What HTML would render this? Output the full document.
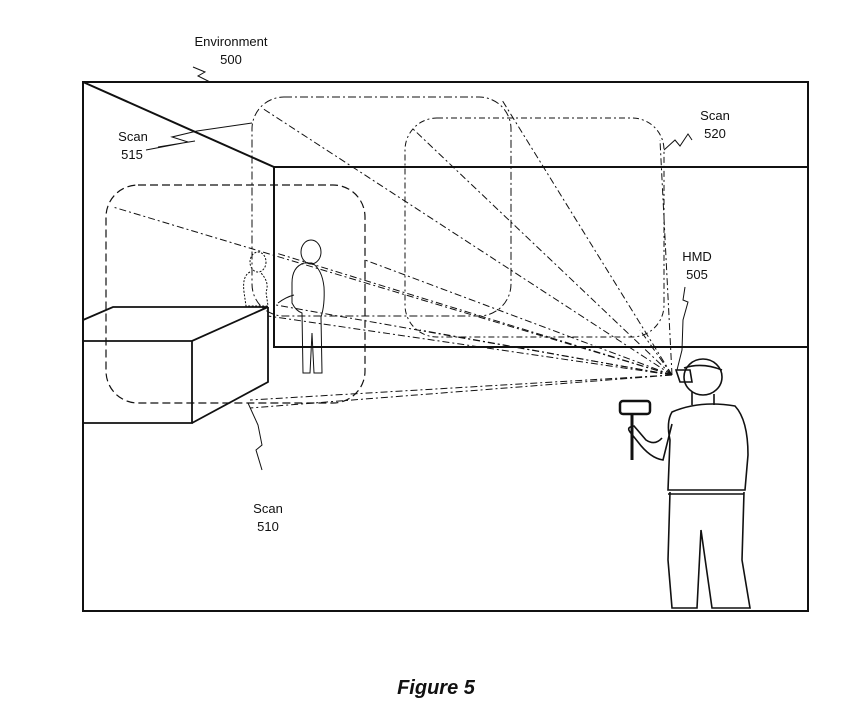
<!DOCTYPE html>
<html><head><style>body{margin:0;background:#fff}svg{display:block}text{font-family:"Liberation Sans",sans-serif;font-size:13px;fill:#111}</style></head><body>
<svg width="859" height="724" viewBox="0 0 859 724" xmlns="http://www.w3.org/2000/svg">
<g fill="none" stroke="#111">
<rect x="83" y="82" width="725" height="529" stroke-width="2"/>
<path d="M83 82 L274 167 L808 167 M274 167 V347 H808" stroke-width="2"/>
<path d="M83 320 L113 307 L268 307 L192 341 L83 341 M192 341 V423 H83 M268 307 V382 L192 423" stroke-width="1.8"/>
<rect x="106" y="185" width="259" height="218" rx="32" stroke-dasharray="8,4" stroke-width="1.2"/>
<rect x="252" y="97" width="259" height="219" rx="32" stroke-dasharray="8,3,2,3" stroke-width="1"/>
<rect x="405" y="118" width="259" height="219" rx="32" stroke-dasharray="6,3,2,3" stroke-width="1"/>
<g stroke-width="1" stroke-dasharray="7,3,2,3">
<path d="M672 375 L113 207"/><path d="M672 375 L262 108"/><path d="M672 375 L412 128"/>
<path d="M672 375 L502 100"/><path d="M672 375 L660 140"/><path d="M672 375 L276 253"/>
<path d="M672 375 L276 305"/><path d="M672 375 L268 316"/><path d="M672 375 L420 330"/>
<path d="M672 375 L640 330"/><path d="M672 375 L250 400"/><path d="M672 375 L250 408"/>
<path d="M672 375 L365 260"/>
</g>
<path d="M193 67 L205 72 L198 76 L210 82" stroke-width="1"/>
<path d="M252 123 L197 131 L172 137 L188 142 L146 150 M195 141 L158 147" stroke-width="1"/>
<path d="M664 150 L675 140 L680 146 L688 134 L692 140" stroke-width="1"/>
<path d="M685 287 L683 300 L688 302 L683 320 L682 350 L677 370" stroke-width="1"/>
<path d="M248 403 L258 425 L262 445 L256 450 L262 470" stroke-width="1"/>
<!-- dotted person -->
<g stroke-width="1" stroke-dasharray="2,1.5">
<ellipse cx="258" cy="262" rx="8" ry="10"/>
<path d="M250 272 q-8 4 -6 20 l2 14 h22 l-2 -14 q4 -10 -6 -20"/>
</g>
<!-- center person -->
<g stroke-width="1">
<ellipse cx="311" cy="252" rx="10" ry="12"/>
<path d="M304 263 q-12 4 -12 20 l0 20 q4 8 10 10 l1 60 h7 l2 -40 l2 40 h8 l-1 -56 q4 -12 3 -30 q-2 -18 -12 -24z"/>
<path d="M294 295 q-8 2 -16 8"/>
</g>
<!-- HMD man -->
<g stroke-width="1.6">
<ellipse cx="703" cy="377" rx="19" ry="18"/>
<path d="M684 368 q18 -6 38 2 M676 370 l4 12 h12 l-2 -12z"/>
<path d="M692 392 L692 405 M714 394 L714 405"/>
<path d="M672 412 Q700 400 735 406 Q748 420 748 455 L745 490 L668 490 L670 440 Q666 422 672 412 Z"/>
<path d="M672 424 L663 460 Q650 458 638 442 L630 432 Q626 427 634 426 L646 440 Q655 446 662 438"/>
<path d="M670 492 L668 560 L672 608 L697 608 L701 530 L712 608 L750 608 L742 560 L744 492"/>
<path d="M668 494 h76"/>
<rect x="620" y="401" width="30" height="13" rx="3" stroke-width="2.5"/>
<path d="M632 414 v46" stroke-width="3"/>
</g>
</g>
<text x="231" y="46" text-anchor="middle">Environment</text>
<text x="231" y="64" text-anchor="middle">500</text>
<text x="133" y="141" text-anchor="middle">Scan</text>
<text x="132" y="159" text-anchor="middle">515</text>
<text x="715" y="120" text-anchor="middle">Scan</text>
<text x="715" y="138" text-anchor="middle">520</text>
<text x="697" y="261" text-anchor="middle">HMD</text>
<text x="697" y="279" text-anchor="middle">505</text>
<text x="268" y="513" text-anchor="middle">Scan</text>
<text x="268" y="531" text-anchor="middle">510</text>
<text x="436" y="694" text-anchor="middle" style="font-size:20px;font-weight:bold;font-style:italic">Figure 5</text>
</svg>
</body></html>
